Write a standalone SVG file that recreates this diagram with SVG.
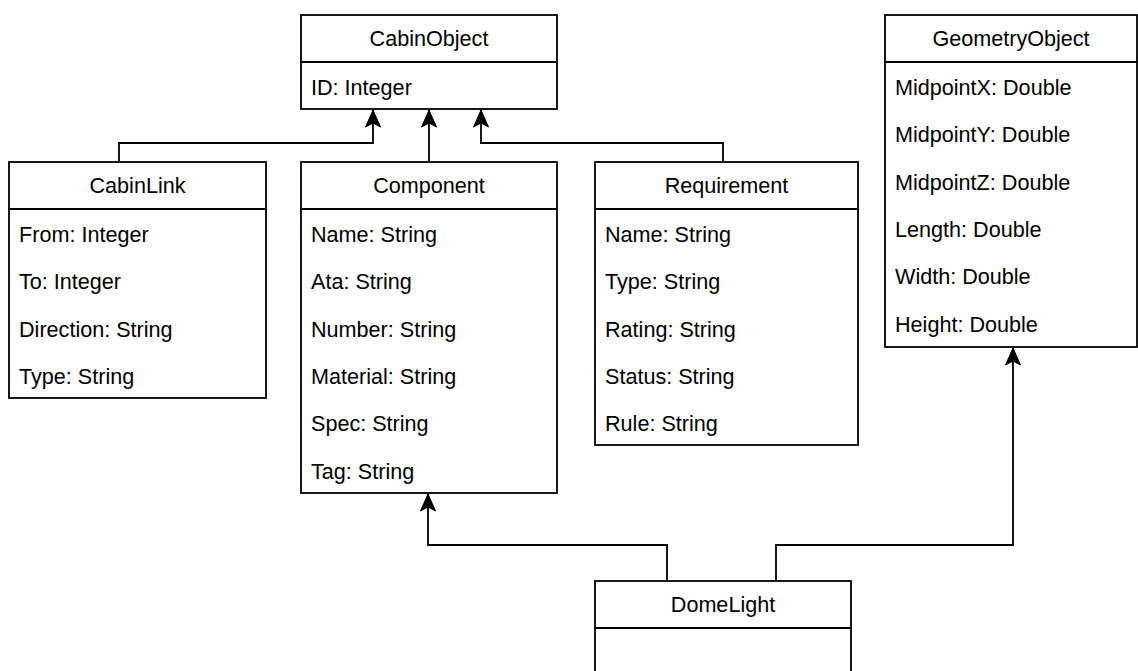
<svg xmlns="http://www.w3.org/2000/svg" width="1138" height="671" viewBox="0 0 1138 671">
  <style>
    .box { fill: #ffffff; stroke: #000000; stroke-width: 1.8; }
    .div { stroke: #000000; stroke-width: 1.8; fill: none; }
    .title { font-family: "Liberation Sans", Arial, sans-serif; font-size: 21.6px; fill: #000000; text-anchor: middle; }
    .attr { font-family: "Liberation Sans", Arial, sans-serif; font-size: 21.6px; fill: #000000; }
    .edge { fill: none; stroke: #000000; stroke-width: 1.8; marker-end: url(#arrow); }
  </style>
  <defs>
    <marker id="arrow" markerUnits="userSpaceOnUse" viewBox="-18 -9 19 18" refX="0" refY="0" markerWidth="19" markerHeight="18" orient="auto">
      <path d="M0,0 L-17,-7.5 L-13,0 L-17,7.5 Z" fill="#000000" stroke="#000000" stroke-width="1"/>
    </marker>
  </defs>

  <rect width="1138" height="671" fill="#ffffff"/>

  <!-- generalization connectors -->
  <g id="connectors">
    <path class="edge" d="M119,162 V143 H373 V110"/>
    <path class="edge" d="M429,162 V110"/>
    <path class="edge" d="M723,162 V143 H481 V110"/>
    <path class="edge" d="M667,581 V545 H428 V494"/>
    <path class="edge" d="M776,581 V545 H1013 V348"/>
  </g>

  <g id="CabinObject">
    <rect class="box" x="301" y="15" width="256" height="94"/>
    <line class="div" x1="301" y1="62" x2="557" y2="62"/>
    <text class="title" x="429" y="46">CabinObject</text>
    <text class="attr" x="311" y="95">ID: Integer</text>
  </g>

  <g id="CabinLink">
    <rect class="box" x="9" y="162" width="257" height="236"/>
    <line class="div" x1="9" y1="209" x2="266" y2="209"/>
    <text class="title" x="137.5" y="193">CabinLink</text>
    <text class="attr" x="19" y="242">From: Integer</text>
    <text class="attr" x="19" y="289.3">To: Integer</text>
    <text class="attr" x="19" y="336.6">Direction: String</text>
    <text class="attr" x="19" y="384">Type: String</text>
  </g>

  <g id="Component">
    <rect class="box" x="301" y="162" width="256" height="331"/>
    <line class="div" x1="301" y1="209" x2="557" y2="209"/>
    <text class="title" x="429" y="193">Component</text>
    <text class="attr" x="311" y="242">Name: String</text>
    <text class="attr" x="311" y="289.3">Ata: String</text>
    <text class="attr" x="311" y="336.6">Number: String</text>
    <text class="attr" x="311" y="384">Material: String</text>
    <text class="attr" x="311" y="431.3">Spec: String</text>
    <text class="attr" x="311" y="478.6">Tag: String</text>
  </g>

  <g id="Requirement">
    <rect class="box" x="595" y="162" width="263" height="283"/>
    <line class="div" x1="595" y1="209" x2="858" y2="209"/>
    <text class="title" x="726.5" y="193">Requirement</text>
    <text class="attr" x="605" y="242">Name: String</text>
    <text class="attr" x="605" y="289.3">Type: String</text>
    <text class="attr" x="605" y="336.6">Rating: String</text>
    <text class="attr" x="605" y="384">Status: String</text>
    <text class="attr" x="605" y="431.3">Rule: String</text>
  </g>

  <g id="GeometryObject">
    <rect class="box" x="885" y="15" width="252" height="332"/>
    <line class="div" x1="885" y1="62" x2="1137" y2="62"/>
    <text class="title" x="1011" y="46">GeometryObject</text>
    <text class="attr" x="895" y="95">MidpointX: Double</text>
    <text class="attr" x="895" y="142.3">MidpointY: Double</text>
    <text class="attr" x="895" y="189.6">MidpointZ: Double</text>
    <text class="attr" x="895" y="237">Length: Double</text>
    <text class="attr" x="895" y="284.3">Width: Double</text>
    <text class="attr" x="895" y="331.6">Height: Double</text>
  </g>

  <g id="DomeLight">
    <rect class="box" x="595" y="581" width="256" height="120"/>
    <line class="div" x1="595" y1="628" x2="851" y2="628"/>
    <text class="title" x="723" y="612">DomeLight</text>
  </g>
</svg>
